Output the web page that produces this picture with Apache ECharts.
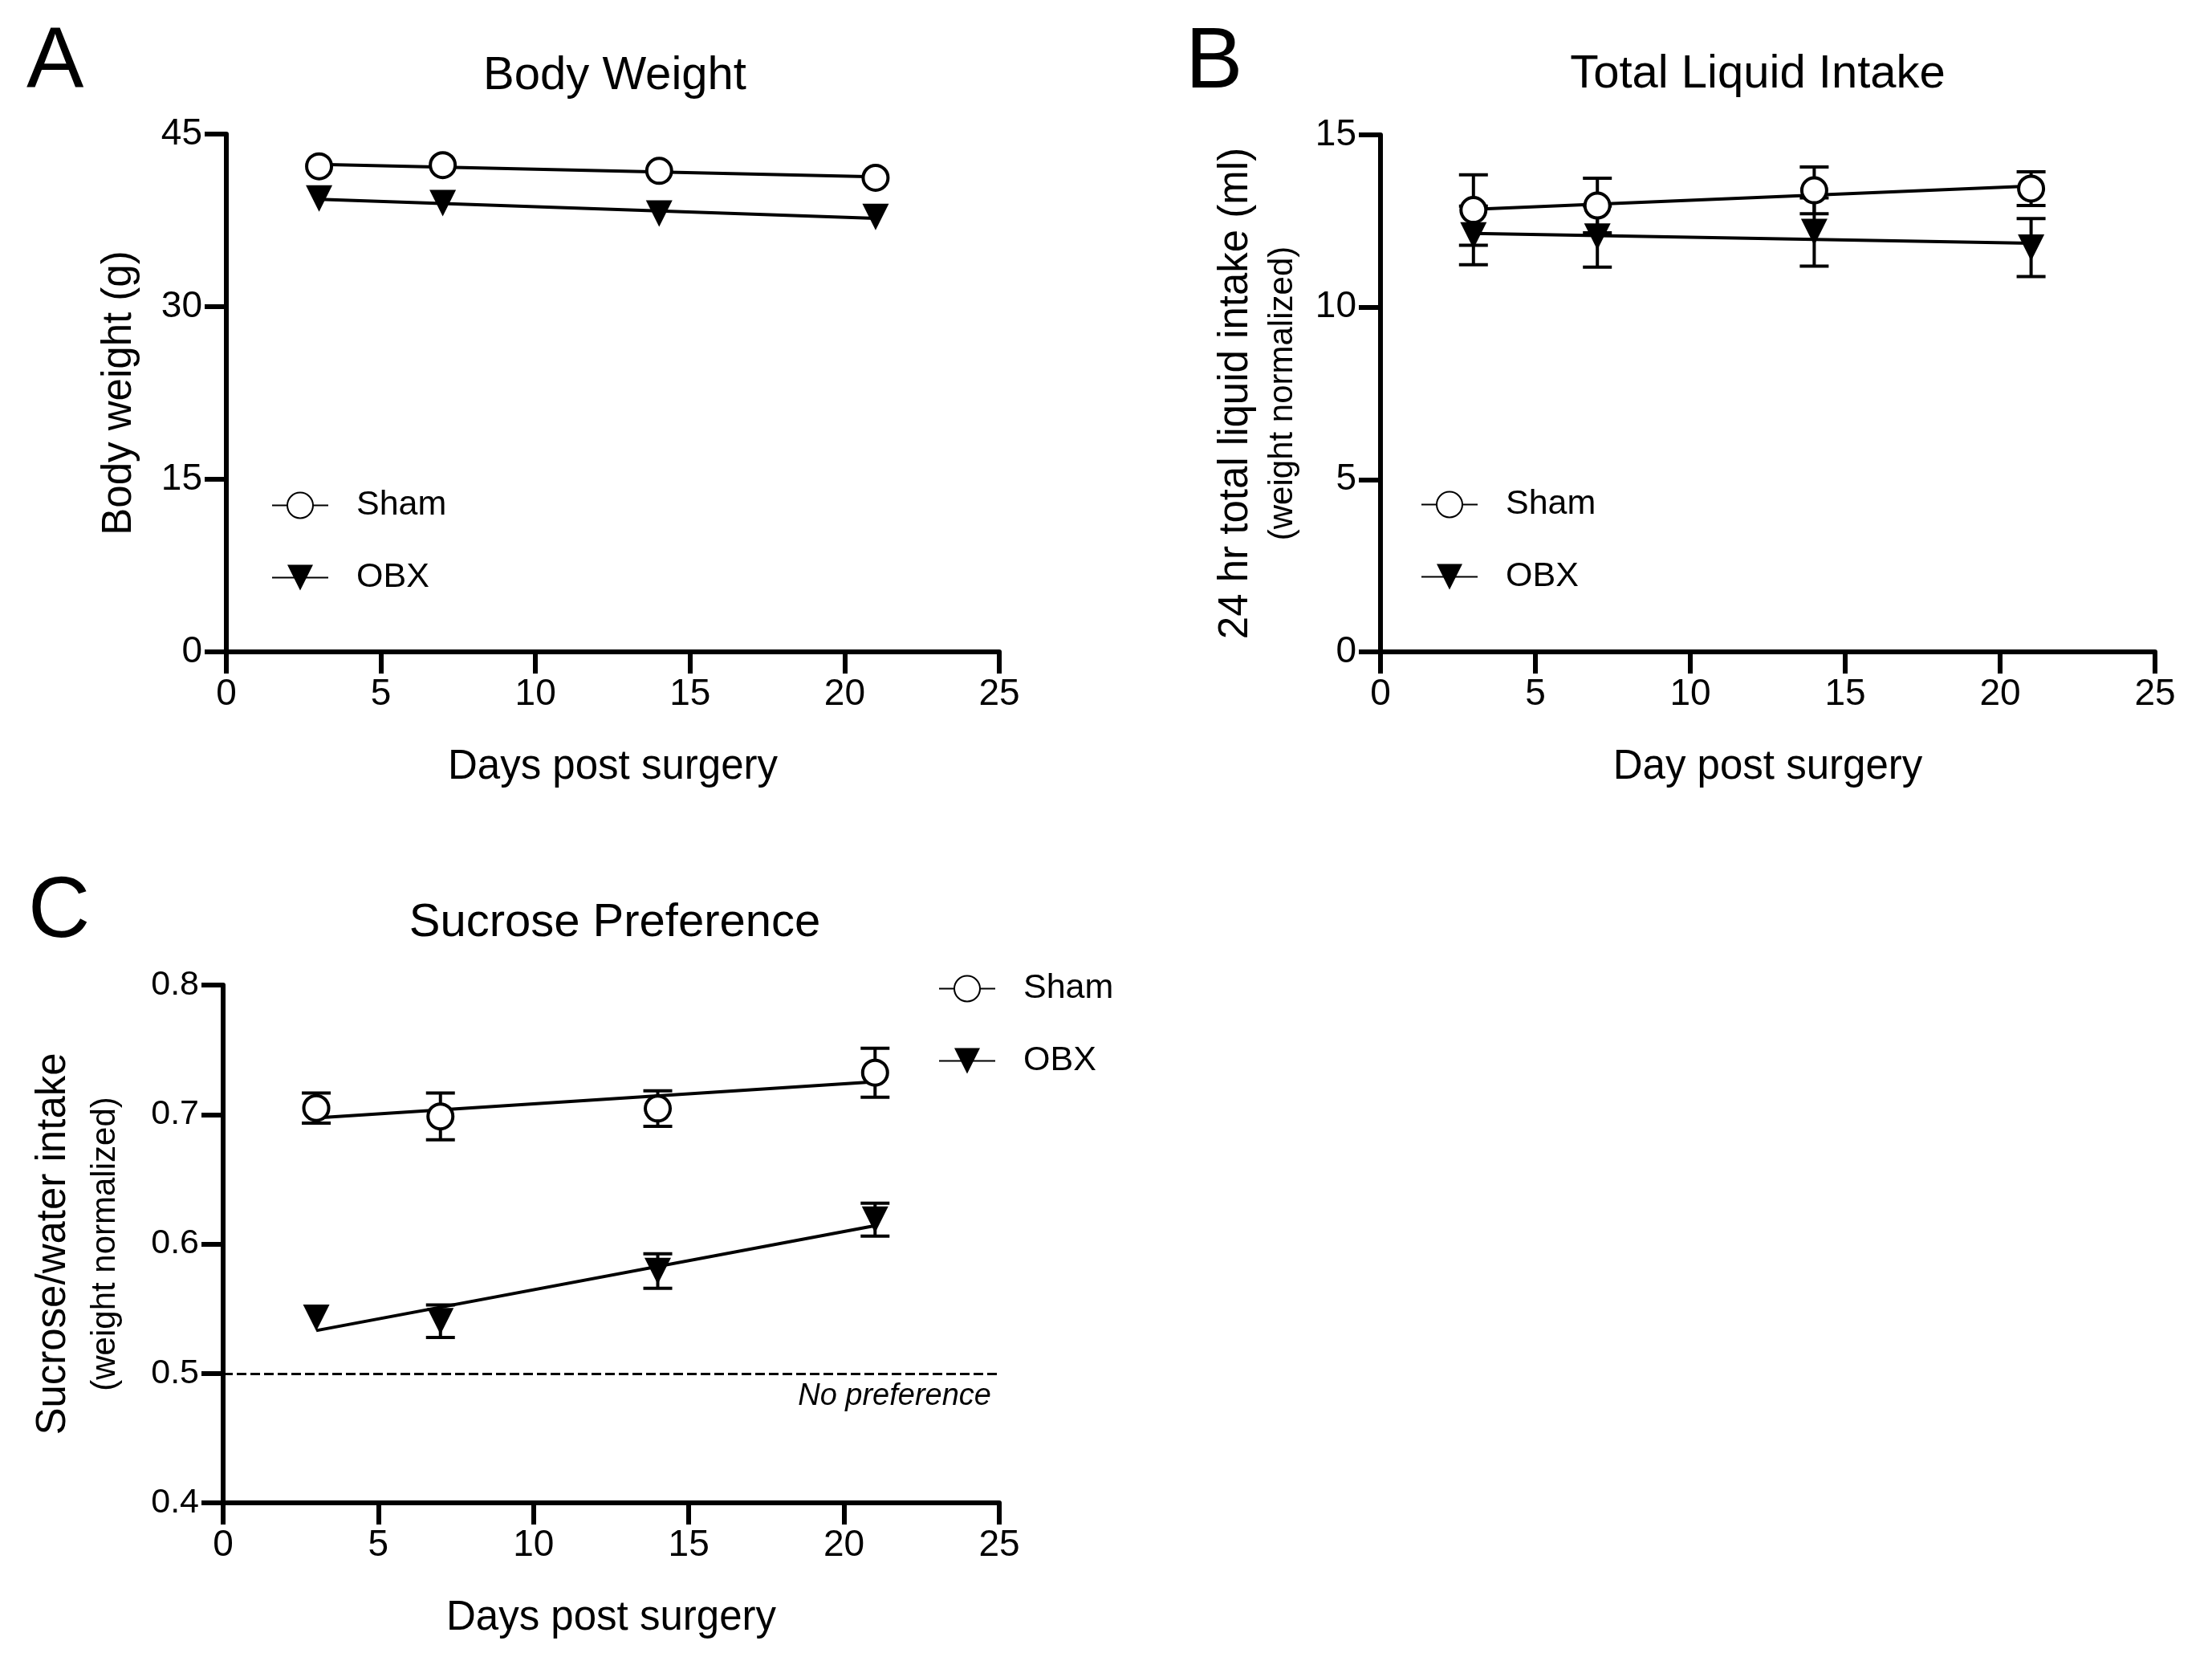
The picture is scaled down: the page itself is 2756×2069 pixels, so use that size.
<!DOCTYPE html>
<html>
<head>
<meta charset="utf-8">
<script src="https://cdn.jsdelivr.net/npm/echarts@6/dist/echarts.min.js"></script>
<style>
  html, body { margin: 0; background: #fff; }
  #chart { width: 2756px; height: 2069px; }
</style>
</head>
<body>
<div id="chart"></div>
<script>
// days after surgery (shared by all panels)
var days = [3, 7, 14, 21];
var dayTicks = [0, 5, 10, 15, 20, 25];

// A - body weight (g), mean and SEM
var weightTicks = [0, 15, 30, 45];
var weightSham = [42.2, 42.3, 41.8, 41.2];
var weightShamSem = [0.4, 0.4, 0.4, 0.4];
var weightObx = [39.4, 39.0, 38.1, 37.8];
var weightObxSem = [0.4, 0.5, 0.5, 0.5];

// B - 24 hr total liquid intake (ml, weight normalized)
var intakeTicks = [0, 5, 10, 15];
var intakeSham = [12.82, 12.95, 13.39, 13.44];
var intakeShamSem = [1.02, 0.79, 0.68, 0.49];
var intakeObx = [12.08, 12.05, 12.18, 11.73];
var intakeObxSem = [0.85, 0.89, 0.99, 0.84];

// C - sucrose/water intake (weight normalized)
var prefTicks = [0.4, 0.5, 0.6, 0.7, 0.8];
var prefSham = [0.705, 0.6985, 0.7046, 0.7323];
var prefShamSem = [0.0116, 0.0181, 0.0137, 0.0189];
var prefObx = [0.5429, 0.5403, 0.5791, 0.6187];
var prefObxSem = [0.004, 0.0126, 0.0133, 0.0127];
var noPreference = 0.5;

var FONT = '"Liberation Sans", Arial, sans-serif';
var chart = echarts.init(document.getElementById('chart'));

// least squares line through the points, drawn from first to last day
function fitLine(xs, ys) {
  var n = xs.length, mx = 0, my = 0, sxy = 0, sxx = 0;
  for (var i = 0; i < n; i++) { mx += xs[i] / n; my += ys[i] / n; }
  for (var j = 0; j < n; j++) {
    sxy += (xs[j] - mx) * (ys[j] - my);
    sxx += (xs[j] - mx) * (xs[j] - mx);
  }
  var b = sxy / sxx, a = my - b * mx;
  return [[xs[0], a + b * xs[0]], [xs[n - 1], a + b * xs[n - 1]]];
}

function zip(a, b, c) {
  return a.map(function (v, i) { return c ? [v, b[i], c[i]] : [v, b[i]]; });
}

// mean +/- SEM, hidden when shorter than the symbol (like Prism does)
function errorBars(params, api) {
  var x = api.value(0), m = api.value(1), e = api.value(2);
  var lo = api.coord([x, m - e]), hi = api.coord([x, m + e]);
  if ((lo[1] - hi[1]) / 2 < 17) return null;
  var st = { stroke: '#000', lineWidth: 4, fill: null };
  return {
    type: 'group',
    children: [
      { type: 'line', shape: { x1: lo[0], y1: lo[1], x2: hi[0], y2: hi[1] }, style: st },
      { type: 'line', shape: { x1: lo[0] - 18, y1: lo[1], x2: lo[0] + 18, y2: lo[1] }, style: st },
      { type: 'line', shape: { x1: hi[0] - 18, y1: hi[1], x2: hi[0] + 18, y2: hi[1] }, style: st }
    ]
  };
}

var shamItem = { color: '#fff', borderColor: '#000', borderWidth: 4, opacity: 1 };
var obxItem = { color: '#000', opacity: 1 };
var fitStyle = { color: '#000', width: 4 };

function panelSeries(k, sham, shamSem, obx, obxSem) {
  return [
    { name: 'Sham', type: 'line', xAxisIndex: k, yAxisIndex: k, data: fitLine(days, sham),
      symbol: 'circle', symbolSize: 30, showSymbol: false, itemStyle: shamItem,
      lineStyle: fitStyle, z: 2, silent: true },
    { name: 'OBX', type: 'line', xAxisIndex: k, yAxisIndex: k, data: fitLine(days, obx),
      symbol: 'triangle', symbolRotate: 180, symbolSize: 33, showSymbol: false, itemStyle: obxItem,
      lineStyle: fitStyle, z: 2, silent: true },
    { name: 'OBX sem', type: 'custom', xAxisIndex: k, yAxisIndex: k, renderItem: errorBars,
      data: zip(days, obx, obxSem), z: 3, silent: true },
    { name: 'OBX mean', type: 'scatter', xAxisIndex: k, yAxisIndex: k, data: zip(days, obx),
      symbol: 'triangle', symbolRotate: 180, symbolSize: 33, itemStyle: obxItem, z: 4, silent: true },
    { name: 'Sham sem', type: 'custom', xAxisIndex: k, yAxisIndex: k, renderItem: errorBars,
      data: zip(days, sham, shamSem), z: 5, silent: true },
    { name: 'Sham mean', type: 'scatter', xAxisIndex: k, yAxisIndex: k, data: zip(days, sham),
      symbol: 'circle', symbolSize: 31, itemStyle: shamItem, z: 6, silent: true }
  ];
}

function xAxisFor(k, name) {
  return {
    type: 'value', gridIndex: k, min: dayTicks[0], max: dayTicks[dayTicks.length - 1],
    interval: dayTicks[1] - dayTicks[0],
    name: name, nameLocation: 'middle', nameGap: 118,
    nameTextStyle: { fontSize: 51, color: '#000', fontFamily: FONT },
    axisLine: { onZero: false, lineStyle: { color: '#000', width: 6 } },
    axisTick: { length: 27, lineStyle: { color: '#000', width: 6 } },
    axisLabel: { fontSize: 46, color: '#000', margin: 30, fontFamily: FONT },
    splitLine: { show: false }
  };
}

function yAxisFor(k, ticks, name, gap, rich, labelSize, digits) {
  return {
    type: 'value', gridIndex: k, min: ticks[0], max: ticks[ticks.length - 1],
    interval: ticks[1] - ticks[0],
    name: name, nameLocation: 'middle', nameGap: gap, nameRotate: 90,
    nameTextStyle: { fontSize: 51, color: '#000', fontFamily: FONT, rich: rich },
    axisLine: { show: true, onZero: false, lineStyle: { color: '#000', width: 6 } },
    axisTick: { show: true, length: 27, lineStyle: { color: '#000', width: 6 } },
    axisLabel: { fontSize: labelSize, color: '#000', margin: 30, fontFamily: FONT,
      formatter: function (v) { return v.toFixed(digits); } },
    splitLine: { show: false }
  };
}

function legendAt(left, top) {
  return {
    data: ['Sham', 'OBX'], orient: 'vertical', left: left, top: top,
    itemWidth: 70, itemHeight: 40, itemGap: 47, selectedMode: false,
    textStyle: { fontSize: 43, color: '#000', fontFamily: FONT, lineHeight: 40, padding: [0, 0, 0, 30] }
  };
}

function label(text, x, y, size, extra) {
  return {
    type: 'text', x: x, y: y, silent: true,
    style: Object.assign({ text: text, fontSize: size, fontFamily: FONT, fill: '#000',
      align: 'center', verticalAlign: 'middle', textAlign: 'center', textVerticalAlign: 'middle' }, extra || {})
  };
}

var series = []
  .concat(panelSeries(0, weightSham, weightShamSem, weightObx, weightObxSem))
  .concat(panelSeries(1, intakeSham, intakeShamSem, intakeObx, intakeObxSem))
  .concat(panelSeries(2, prefSham, prefShamSem, prefObx, prefObxSem));

// dashed "no preference" level in panel C
series[series.length - 1].markLine = {
  silent: true, symbol: 'none', animation: false,
  lineStyle: { color: '#000', width: 3, type: [12, 5] },
  label: { show: true, formatter: 'No preference', position: 'insideEndBottom',
    fontSize: 38, fontStyle: 'italic', color: '#000', fontFamily: FONT, distance: [10, 10] },
  data: [{ yAxis: noPreference }]
};

var twoLine = function (main, sub) {
  return {
    m: { fontSize: 51, color: '#000', fontFamily: FONT, lineHeight: main },
    s: { fontSize: 42, color: '#000', fontFamily: FONT, lineHeight: sub }
  };
};

var option = {
  animation: false,
  backgroundColor: '#fff',
  grid: [
    { left: 282, top: 167, width: 963, height: 645 },
    { left: 1720, top: 168, width: 965, height: 644 },
    { left: 278, top: 1227, width: 967, height: 645 }
  ],
  xAxis: [
    xAxisFor(0, 'Days post surgery'),
    xAxisFor(1, 'Day post surgery'),
    xAxisFor(2, 'Days post surgery')
  ],
  yAxis: [
    yAxisFor(0, weightTicks, 'Body weight (g)', 108, null, 46, 0),
    yAxisFor(1, intakeTicks, '{m|24 hr total liquid intake (ml)}\n{s|(weight normalized)}', 96, twoLine(64, 52), 46, 0),
    yAxisFor(2, prefTicks, '{m|Sucrose/water intake}\n{s|(weight normalized)}', 118, twoLine(70, 58), 43, 1)
  ],
  legend: [legendAt(333, 603), legendAt(1765, 602), legendAt(1164, 1205)],
  graphic: [
    label('A', 33, 79, 107, { align: 'left', textAlign: 'left' }),
    label('B', 1477, 79, 107, { align: 'left', textAlign: 'left' }),
    label('C', 35, 1137, 107, { align: 'left', textAlign: 'left' }),
    label('Body Weight', 766, 95, 58),
    label('Total Liquid Intake', 2190, 93, 58),
    label('Sucrose Preference', 766, 1150, 58)
  ],
  series: series
};

chart.setOption(option);
</script>
</body>
</html>
